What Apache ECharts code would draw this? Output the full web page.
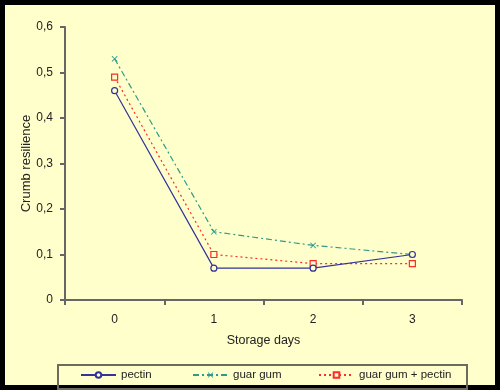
<!DOCTYPE html>
<html>
<head>
<meta charset="utf-8">
<script src="https://cdn.jsdelivr.net/npm/echarts@6/dist/echarts.min.js"></script>
<style>
  html, body { margin: 0; padding: 0; background: #000; }
  #wrap { position: relative; width: 500px; height: 390px; background: #000; }
  #inner { position: absolute; left: 5px; top: 5px; width: 490px; height: 380px; background: #FFFFCC; }
  #chart { position: absolute; left: 0; top: 0; width: 500px; height: 390px; }
</style>
</head>
<body>
<div id="wrap"><div id="inner"></div><div id="chart"></div></div>
<script>
var categories = ['0', '1', '2', '3'];
var pectin = [0.46, 0.07, 0.07, 0.10];
var guarGum = [0.53, 0.15, 0.12, 0.10];
var guarGumPectin = [0.49, 0.10, 0.08, 0.08];
var seriesNames = ['pectin', 'guar gum', 'guar gum + pectin'];
var yMin = 0, yMax = 0.6, yStep = 0.1;

var bg = '#FFFFCC';
var font = 'Liberation Sans, Arial, sans-serif';
var xSym = 'path://M0,1L1,0L5,4L9,0L10,1L6,5L10,9L9,10L5,6L1,10L0,9L4,5Z';
var legendX = [80, 192, 318];

function legendFor(i) {
  return {
    left: legendX[i], top: 369, padding: 0,
    itemWidth: 35, itemHeight: 7,
    textStyle: { fontSize: 11.5, color: '#222', fontFamily: font },
    data: [seriesNames[i]]
  };
}

var chart = echarts.init(document.getElementById('chart'), null, { renderer: 'canvas' });
chart.setOption({
  backgroundColor: 'transparent',
  animation: false,
  textStyle: { fontFamily: font },
  graphic: [{
    type: 'rect',
    shape: { x: 58, y: 365, width: 409, height: 24 },
    style: { fill: 'transparent', stroke: '#6b6b5e', lineWidth: 2 },
    z: -1
  }],
  grid: { left: 65, right: 38, top: 27, bottom: 90, containLabel: false },
  legend: [legendFor(0), legendFor(1), legendFor(2)],
  xAxis: {
    type: 'category',
    data: categories,
    boundaryGap: true,
    name: 'Storage days',
    nameLocation: 'middle',
    nameGap: 34,
    nameMoveOverlap: false,
    nameTextStyle: { fontSize: 12.5, color: '#222' },
    axisLine: { lineStyle: { color: '#666', width: 2 } },
    axisTick: { show: true, length: 5, lineStyle: { color: '#666', width: 2 } },
    axisLabel: { fontSize: 12, color: '#222', margin: 14 },
    splitLine: { show: false }
  },
  yAxis: {
    type: 'value',
    min: yMin, max: yMax, interval: yStep,
    name: 'Crumb resilience',
    nameLocation: 'middle',
    nameGap: 32,
    nameMoveOverlap: false,
    nameRotate: 90,
    nameTextStyle: { fontSize: 13, color: '#222' },
    axisLine: { show: true, lineStyle: { color: '#666', width: 2 } },
    axisTick: { show: true, length: 5, lineStyle: { color: '#666', width: 2 } },
    axisLabel: { fontSize: 12, color: '#222', margin: 12,
      formatter: function (v) { return (Math.round(v * 10) / 10).toString().replace('.', ','); } },
    splitLine: { show: false }
  },
  series: [
    {
      name: seriesNames[0], type: 'line', data: pectin,
      symbol: 'circle', symbolSize: 6,
      itemStyle: { color: bg, borderColor: '#333399', borderWidth: 1.2 },
      lineStyle: { color: '#333399', width: 1.2, type: 'solid' },
      z: 4
    },
    {
      name: seriesNames[1], type: 'line', data: guarGum,
      symbol: xSym, symbolSize: 6,
      itemStyle: { color: '#2f9a8c', borderWidth: 0 },
      lineStyle: { color: '#2f9a8c', width: 1.2, type: [6, 3, 2, 3] },
      z: 3
    },
    {
      name: seriesNames[2], type: 'line', data: guarGumPectin,
      symbol: 'rect', symbolSize: 6,
      itemStyle: { color: bg, borderColor: '#ff2a2a', borderWidth: 1.2 },
      lineStyle: { color: '#ff2a2a', width: 1.2, type: [2, 3] },
      z: 3
    }
  ]
});
</script>
</body>
</html>
